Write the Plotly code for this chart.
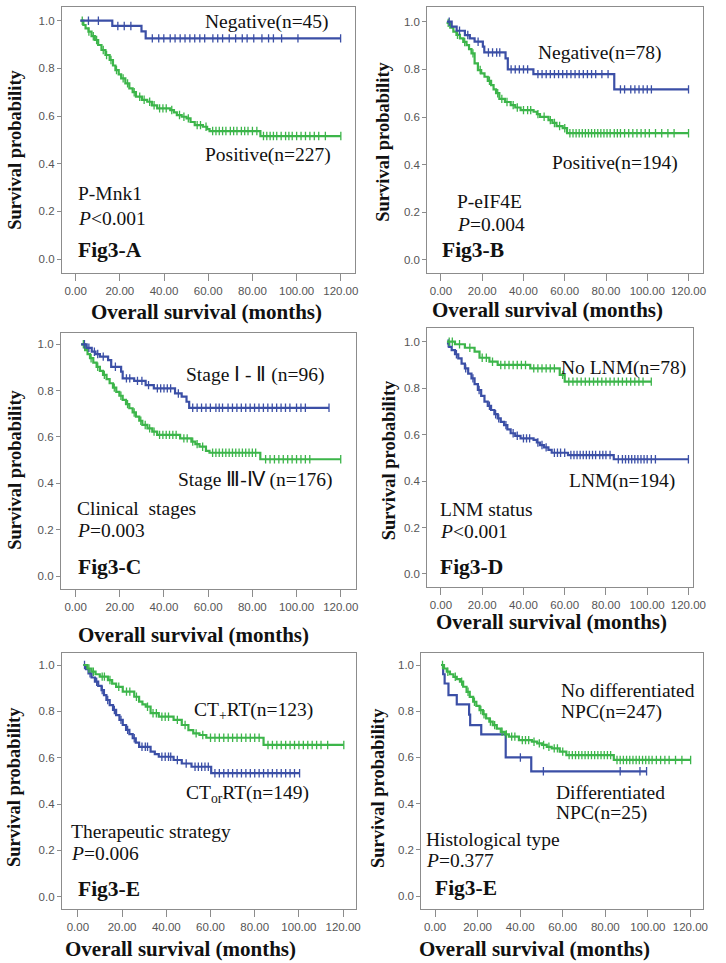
import plotly.graph_objects as go

W, H = 726, 963
BLUE = "#3b4fa6"
GREEN = "#3cb54a"
SERIF = "Liberation Serif, Times New Roman, serif"
SANS = "Liberation Sans, Arial, sans-serif"

# ---------------- data (time in months, survival probability) ----------------
# Fig3-A  P-Mnk1
A_neg_steps = [(2.1, 1.0), (16.6, 0.978), (29.8, 0.955), (31.7, 0.926)]
A_neg_end = 120.0
A_neg_cens = [5.8, 10.3, 19.1, 22.0, 25.0, 34.7, 37.6, 39.9, 42.8, 45.0, 47.3, 49.5, 51.7, 53.9,
              56.2, 58.4, 62.1, 64.3, 66.5, 69.5, 72.4, 75.4, 77.6, 80.6, 84.3, 87.3, 89.5, 93.2,
              100.6, 119.9]
A_pos_steps = [(2.3, 1.0), (3.5, 0.982), (4.5, 0.968), (5.8, 0.954), (7.2, 0.935), (8.7, 0.919),
               (10.2, 0.898), (11.7, 0.877), (13.5, 0.856), (15.4, 0.835), (16.9, 0.812),
               (18.0, 0.793), (19.5, 0.775), (20.6, 0.758), (22.5, 0.737), (24.3, 0.716),
               (25.8, 0.700), (27.3, 0.681), (30.0, 0.668), (32.4, 0.660), (34.5, 0.645),
               (36.9, 0.632), (42.8, 0.625), (44.5, 0.615), (45.8, 0.604), (48.0, 0.597),
               (50.2, 0.590), (52.0, 0.575), (53.9, 0.562), (57.6, 0.555), (59.5, 0.545),
               (60.6, 0.537), (83.6, 0.516)]
A_pos_end = 120.0
A_pos_cens = [3, 6, 8, 9.5, 12.5, 14, 16, 18.5, 21.5, 23.5, 26.5, 29, 31, 33.5, 35.5, 38, 39.5, 41,
              43.5, 47, 49, 51, 55, 56.5, 59, 62, 63.5, 65, 66.5, 68, 70, 71.5, 73, 75, 76.5, 78, 80,
              82, 85, 86.5, 88, 89.5, 91, 93, 95, 96.5, 98, 100, 102, 104, 106, 108, 110, 113, 120]

# Fig3-B  P-eIF4E
B_neg_steps = [(2.9, 1.0), (5.2, 0.979), (7.6, 0.962), (11.6, 0.944), (14.0, 0.930), (16.3, 0.916),
               (20.3, 0.895), (21.0, 0.871), (31.3, 0.846), (32.4, 0.800), (44.8, 0.780),
               (84.0, 0.716)]
B_neg_end = 120.0
B_neg_cens = [4, 9, 13, 18, 23, 25, 27, 28.5, 34, 36, 38, 40, 42, 47, 49, 51, 53, 55, 57, 59, 61, 63,
              65, 67, 69, 71, 73, 75, 78, 81, 87, 89, 92, 94, 96, 98, 100, 102, 120]
B_pos_steps = [(2.7, 0.995), (4.5, 0.975), (6.0, 0.958), (7.5, 0.945), (9.2, 0.930), (10.8, 0.915),
               (12.4, 0.902), (13.6, 0.885), (14.8, 0.867), (16.3, 0.825), (17.9, 0.797),
               (19.5, 0.783), (21.1, 0.769), (22.7, 0.752), (24.3, 0.734), (25.5, 0.716),
               (26.7, 0.700), (28.3, 0.676), (31.0, 0.663), (33.8, 0.650), (36.0, 0.640),
               (38.6, 0.629), (44.9, 0.622), (46.5, 0.612), (48.0, 0.601), (52.1, 0.587),
               (54.0, 0.575), (56.0, 0.562), (59.0, 0.553), (61.1, 0.532)]
B_pos_end = 120.0
B_pos_cens = [3.5, 8, 11.5, 15.5, 19, 23.5, 27.5, 29.5, 32, 35, 37, 40, 42, 43.5, 47, 50, 53, 55,
              57.5, 60, 62.5, 64, 65.5, 67, 68.5, 70, 71.5, 73, 74.5, 76, 77.5, 79, 80.5, 82, 84,
              85.5, 87, 89, 91, 93, 95, 97, 99, 101, 104, 107, 110, 113, 120]

# Fig3-C  Clinical stages
C_low_steps = [(2.5, 1.0), (5.0, 0.985), (7.3, 0.968), (9.0, 0.958), (11.0, 0.947), (14.7, 0.932),
               (16.1, 0.903), (20.6, 0.882), (21.3, 0.853), (26.5, 0.842), (31.7, 0.824),
               (35.4, 0.810), (45.0, 0.788), (48.0, 0.774), (50.2, 0.752), (51.4, 0.726)]
C_low_end = 114.7
C_low_cens = [4, 6, 8.5, 10, 12.5, 18, 23, 24.5, 28, 30, 33, 37, 38.5, 40, 41.5, 43, 46.5, 53, 55,
              57, 59, 61, 63.5, 65, 66.5, 69, 71, 73, 75, 77, 79, 81, 83, 85, 87, 89, 91, 93, 95,
              97, 100, 102, 104, 114.7]
C_high_steps = [(2.5, 1.0), (4.3, 0.975), (5.4, 0.958), (6.5, 0.940), (8.0, 0.921), (9.5, 0.903),
                (11.0, 0.885), (12.4, 0.868), (14.0, 0.850), (15.4, 0.832), (16.9, 0.813),
                (18.4, 0.795), (19.8, 0.778), (21.3, 0.760), (22.8, 0.742), (24.3, 0.724),
                (25.8, 0.706), (27.3, 0.688), (28.8, 0.670), (30.2, 0.652), (32.5, 0.637),
                (34.7, 0.623), (36.9, 0.609), (47.3, 0.594), (52.4, 0.580), (54.2, 0.569),
                (56.1, 0.558), (59.0, 0.540), (60.6, 0.532), (83.6, 0.504)]
C_high_end = 120.0
C_high_cens = [3.5, 7, 10, 13, 17.5, 20.5, 23.5, 26.5, 29.5, 31.5, 33.5, 35.5, 38, 39.5, 41, 42.5,
               44, 45.5, 49, 50.5, 53, 55, 57.5, 62, 63.5, 65, 66.5, 68, 69.5, 71, 72.5, 74, 75.5,
               77, 78.5, 80, 81.5, 86, 88, 90, 92, 94, 96, 98, 100, 102, 104, 106, 120]

# Fig3-D  LNM status
D_no_steps = [(2.9, 1.0), (6.8, 0.989), (11.6, 0.974), (16.3, 0.957), (18.7, 0.931), (23.5, 0.914),
              (27.5, 0.900), (43.3, 0.885), (57.6, 0.857), (60.0, 0.828)]
D_no_end = 102.0
D_no_cens = [4, 5.5, 9, 14, 20, 22, 25, 29, 31, 33, 35, 37, 39, 41, 45, 47, 49, 51, 53, 55, 59, 62,
             64, 66, 68, 70, 72, 74, 76, 78, 80, 82, 84, 86, 88, 90, 92, 94, 96, 98, 102]
D_yes_steps = [(2.9, 0.993), (4.0, 0.978), (5.2, 0.964), (6.8, 0.946), (8.4, 0.928), (10.0, 0.906),
               (11.6, 0.885), (13.2, 0.863), (14.8, 0.842), (16.3, 0.817), (17.9, 0.792),
               (19.5, 0.767), (21.1, 0.742), (22.7, 0.724), (24.3, 0.706), (25.9, 0.688),
               (27.5, 0.670), (29.0, 0.655), (30.6, 0.641), (32.2, 0.623), (33.8, 0.606),
               (36.0, 0.595), (38.6, 0.584), (44.9, 0.577), (46.5, 0.566), (48.0, 0.555),
               (50.0, 0.545), (52.1, 0.534), (53.7, 0.522), (61.6, 0.512), (83.8, 0.494)]
D_yes_end = 120.0
D_yes_cens = [3.5, 7.5, 12, 15.5, 18.5, 23.5, 26.5, 28, 31.5, 35, 37, 40, 41.5, 43, 47, 49, 51, 55,
              56.5, 58, 60, 63, 64.5, 66, 67.5, 69, 70.5, 72, 73.5, 75, 77, 78.5, 80, 82, 86, 88,
              89.5, 91, 92.5, 94, 95.5, 97, 98.5, 100, 102, 104, 120]

# Fig3-E  Therapeutic strategy
E_both_steps = [(2.5, 1.0), (4.3, 0.985), (6.2, 0.971), (8.0, 0.960), (9.9, 0.950), (13.6, 0.935),
                (15.5, 0.920), (17.3, 0.906), (20.3, 0.885), (25.5, 0.863), (27.7, 0.842),
                (29.2, 0.830), (30.7, 0.820), (32.9, 0.792), (36.6, 0.777), (43.3, 0.763),
                (47.0, 0.741), (50.0, 0.719), (52.2, 0.705), (55.0, 0.698), (58.1, 0.686),
                (84.0, 0.655)]
E_both_end = 120.3
E_both_cens = [5, 7, 11, 12, 14.5, 18.5, 22, 23.5, 26.5, 31.5, 34, 35.5, 38, 39.5, 41, 45, 48.5,
               53.5, 56.5, 60, 62, 64, 66, 68, 70, 72, 74, 76, 78, 80, 82, 86, 88, 90, 92, 94, 96,
               98, 100, 102, 104, 106, 108, 110, 113, 120.3]
E_one_steps = [(2.5, 1.0), (3.7, 0.982), (4.8, 0.964), (6.2, 0.946), (7.7, 0.928), (9.2, 0.910),
               (10.7, 0.892), (11.8, 0.870), (12.9, 0.849), (14.4, 0.827), (15.9, 0.806),
               (17.3, 0.784), (18.8, 0.763), (20.3, 0.741), (21.8, 0.720), (23.3, 0.702),
               (24.8, 0.684), (26.2, 0.665), (27.7, 0.647), (32.9, 0.626), (34.8, 0.615),
               (36.6, 0.604), (43.3, 0.590), (47.0, 0.575), (51.4, 0.561), (60.3, 0.533)]
E_one_end = 100.3
E_one_cens = [3, 5.5, 8.5, 11, 13.5, 16.5, 19.5, 22.5, 25.5, 29, 30.5, 31.5, 38, 39.5, 41, 42, 45,
              49, 53, 54.5, 56, 57.5, 59, 62, 64, 66, 68, 70, 72, 74, 76, 78, 80, 82, 84, 86, 88,
              90, 92, 94, 96, 98, 100.3]

# Fig3-E (second)  Histological type
F_diff_steps = [(2.8, 1.0), (3.8, 0.96), (4.5, 0.92), (6.3, 0.87), (10.2, 0.83), (16.0, 0.785),
                (16.5, 0.74), (21.7, 0.70), (33.2, 0.60), (45.2, 0.54)]
F_diff_end = 99.4
F_diff_cens = [40.1, 50.9, 87.0, 96.3, 99.4]
F_nodiff_steps = [(2.8, 1.0), (4.2, 0.985), (5.5, 0.971), (7.0, 0.960), (8.6, 0.949), (10.2, 0.939),
                  (11.7, 0.928), (13.2, 0.906), (14.8, 0.884), (16.3, 0.862), (17.9, 0.841),
                  (19.4, 0.823), (20.9, 0.805), (22.5, 0.787), (24.0, 0.769), (25.5, 0.755),
                  (27.1, 0.740), (29.0, 0.725), (30.9, 0.711), (32.8, 0.700), (34.7, 0.690),
                  (39.4, 0.675), (45.5, 0.668), (48.0, 0.661), (50.2, 0.654), (52.5, 0.646),
                  (54.8, 0.639), (58.6, 0.625), (61.7, 0.610), (84.0, 0.589)]
F_nodiff_end = 120.1
F_nodiff_cens = [3.5, 6, 9.5, 12.5, 15.5, 18.5, 21.5, 23, 26, 28, 31.5, 33.5, 36, 37.5, 41, 42.5, 44,
                 46.5, 49, 51, 53.5, 56, 57.5, 60, 63, 64.5, 66, 67.5, 69, 70.5, 72, 73.5, 75, 76.5,
                 78, 79.5, 81, 82.5, 85.5, 87, 88.5, 90, 91.5, 93, 94.5, 96, 97.5, 99, 100.5, 102,
                 104, 106, 108, 110, 113, 116, 120.1]

x_tickvals = [0, 20, 40, 60, 80, 100, 120]
y_tickvals = [0.0, 0.2, 0.4, 0.6, 0.8, 1.0]


def surv_at(steps, t):
    s = steps[0][1]
    for tt, ss in steps:
        if tt <= t:
            s = ss
        else:
            break
    return s


# ---------------- layout of panels (pixel boxes) ----------------
panels = [
    dict(box=(63, 361, 7, 273), xr=(-6.22, 126.2), yr=(-0.0587, 1.0575),
         curves=[(A_pos_steps, A_pos_end, A_pos_cens, GREEN), (A_neg_steps, A_neg_end, A_neg_cens, BLUE)],
         texts=[("Negative(n=45)", 86.5, 0.996, "center"), ("Positive(n=227)", 87.2, 0.436, "center"),
                ("P-Mnk1", 0.0, 0.276, "left"), ("<i>P</i>&lt;0.001", 0.0, 0.171, "left")],
         fig=("Fig3-A", 0.0, 0.038), ytitle=(15, 150), xtitle=(210.7, 311.7)),
    dict(box=(435, 716, 7, 273), xr=(-6.67, 127.1), yr=(-0.0546, 1.0617),
         curves=[(B_pos_steps, B_pos_end, B_pos_cens, GREEN), (B_neg_steps, B_neg_end, B_neg_cens, BLUE)],
         texts=[("Negative(n=78)", 77.3, 0.867, "center"), ("Positive(n=194)", 84.4, 0.406, "center"),
                ("P-eIF4E", 6.7, 0.245, "left"), ("<i>P</i>=0.004", 6.7, 0.147, "left")],
         fig=("Fig3-B", -0.5, 0.042), ytitle=(389.7, 142), xtitle=(557.3, 310)),
    dict(box=(62, 362, 333, 589), xr=(-6.67, 126.7), yr=(-0.0561, 1.0488),
         curves=[(C_high_steps, C_high_end, C_high_cens, GREEN), (C_low_steps, C_low_end, C_low_cens, BLUE)],
         texts=[("Stage Ⅰ - Ⅱ (n=96)", 81.3, 0.868, "center"), ("Stage Ⅲ-Ⅳ (n=176)", 81.6, 0.414, "center"),
                ("Clinical  stages", -0.1, 0.292, "left"), ("<i>P</i>=0.003", -0.1, 0.196, "left")],
         fig=("Fig3-C", 0.0, 0.040), ytitle=(15, 470), xtitle=(196.7, 635)),
    dict(box=(435, 706, 328, 587), xr=(-6.67, 122.4), yr=(-0.056, 1.059),
         curves=[(D_yes_steps, D_yes_end, D_yes_cens, BLUE), (D_no_steps, D_no_end, D_no_cens, GREEN)],
         texts=[("No LNM(n=78)", 88.4, 0.885, "center"), ("LNM(n=194)", 87.9, 0.402, "center"),
                ("LNM status", -1.3, 0.276, "left"), ("<i>P</i>&lt;0.001", -1.3, 0.182, "left")],
         fig=("Fig3-D", -1.3, 0.031), ytitle=(396.3, 460), xtitle=(561.3, 621.7)),
    dict(box=(63, 362, 653, 909), xr=(-7.24, 125.6), yr=(-0.053, 1.0518),
         curves=[(E_one_steps, E_one_end, E_one_cens, BLUE), (E_both_steps, E_both_end, E_both_cens, GREEN)],
         texts=[("CT<sub>+</sub>RT(n=123)", 79.6, 0.803, "center"),
                ("CT<sub>or</sub>RT(n=149)", 76.6, 0.443, "center"),
                ("Therapeutic strategy", -3.8, 0.28, "left"), ("<i>P</i>=0.006", -3.8, 0.187, "left")],
         fig=("Fig3-E", -0.9, 0.032), ytitle=(15, 787.3), xtitle=(183.3, 949)),
    dict(box=(429, 716, 653, 909), xr=(-6.46, 126.0), yr=(-0.056, 1.052),
         curves=[(F_diff_steps, F_diff_end, F_diff_cens, BLUE), (F_nodiff_steps, F_nodiff_end, F_nodiff_cens, GREEN)],
         texts=[("No differentiated", 58.1, 0.889, "left"), ("NPC(n=247)", 58.1, 0.798, "left"),
                ("Differentiated", 55.8, 0.449, "left"), ("NPC(n=25)", 55.8, 0.358, "left"),
                ("Histological type", -5.4, 0.245, "left"), ("<i>P</i>=0.377", -5.4, 0.156, "left")],
         fig=("Fig3-E", -1.2, 0.033), ytitle=(384.7, 788.3), xtitle=(544.7, 948.5)),
]

fig = go.Figure()
annotations = []
layout_axes = {}

for i, p in enumerate(panels, start=1):
    xa = "x" if i == 1 else f"x{i}"
    ya = "y" if i == 1 else f"y{i}"
    l, r, t, b = p["box"]
    axis_common = dict(showline=True, mirror=True, linecolor="#8c8c8c", linewidth=1,
                       showgrid=False, zeroline=False, ticks="outside", tickcolor="#8c8c8c",
                       tickwidth=1, tickfont=dict(family=SANS, size=11.5, color="#555555"))
    layout_axes["xaxis" if i == 1 else f"xaxis{i}"] = dict(
        axis_common, domain=[l / W, r / W], range=list(p["xr"]), anchor=ya,
        tickvals=x_tickvals, tickformat=".2f", ticklen=7)
    layout_axes["yaxis" if i == 1 else f"yaxis{i}"] = dict(
        axis_common, domain=[1 - b / H, 1 - t / H], range=list(p["yr"]), anchor=xa,
        tickvals=y_tickvals, tickformat=".1f", ticklen=4)

    for steps, end, cens, color in p["curves"]:
        xs = [s[0] for s in steps] + [end]
        ys = [s[1] for s in steps] + [steps[-1][1]]
        fig.add_trace(go.Scatter(x=xs, y=ys, mode="lines", line=dict(color=color, width=2.2, shape="hv"),
                                 xaxis=xa, yaxis=ya, showlegend=False, hoverinfo="skip"))
        fig.add_trace(go.Scatter(x=cens, y=[surv_at(steps, c) for c in cens], mode="markers",
                                 marker=dict(symbol="line-ns-open", size=6, color=color,
                                             line=dict(color=color, width=1.3)),
                                 xaxis=xa, yaxis=ya, showlegend=False, hoverinfo="skip"))

    for text, tx, ty, anc in p["texts"]:
        annotations.append(dict(text=text, x=tx, y=ty, xref=xa, yref=ya, xanchor=anc, yanchor="middle",
                                showarrow=False, font=dict(family=SERIF, size=19.5, color="#111111")))
    ftxt, fx, fy = p["fig"]
    annotations.append(dict(text=f"<b>{ftxt}</b>", x=fx, y=fy, xref=xa, yref=ya, xanchor="left",
                            yanchor="middle", showarrow=False,
                            font=dict(family=SERIF, size=21.5, color="#111111")))
    yx, yy = p["ytitle"]
    annotations.append(dict(text="<b>Survival probability</b>", x=yx / W, y=1 - yy / H, xref="paper",
                            yref="paper", xanchor="center", yanchor="middle", textangle=-90,
                            showarrow=False, font=dict(family=SERIF, size=18.5, color="#111111")))
    xx, xy = p["xtitle"]
    annotations.append(dict(text="<b>Overall survival (months)</b>", x=xx / W, y=1 - xy / H,
                            xref="paper", yref="paper", xanchor="center", yanchor="middle",
                            showarrow=False, font=dict(family=SERIF, size=21, color="#111111")))

fig.update_layout(width=W, height=H, margin=dict(l=0, r=0, t=0, b=0),
                  paper_bgcolor="white", plot_bgcolor="white", hovermode=False,
                  annotations=annotations, **layout_axes)

fig.write_html("out.html", config={"displayModeBar": False},
               post_script="document.body.style.margin='0';")
